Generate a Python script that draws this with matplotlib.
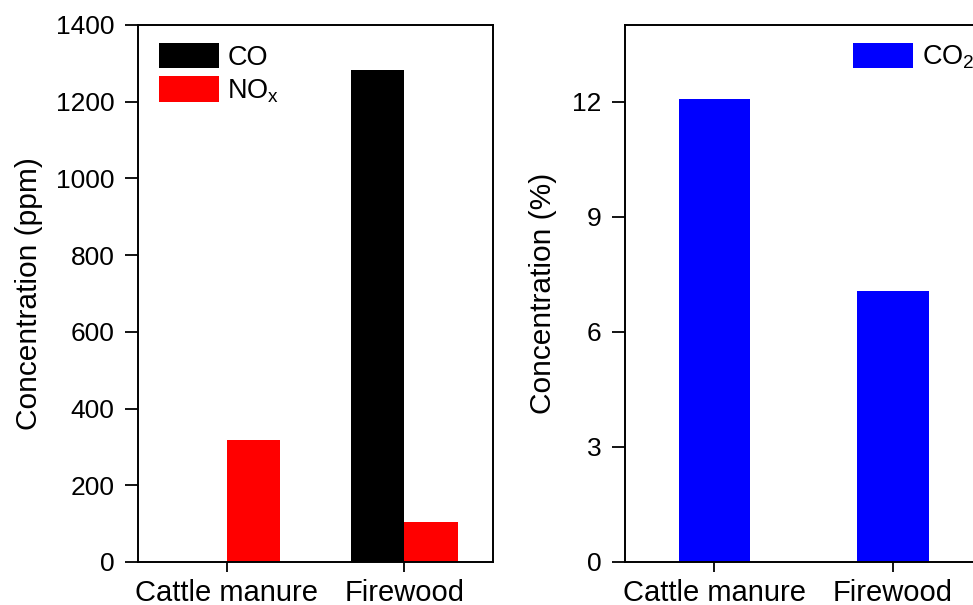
import matplotlib
matplotlib.use("Agg")
import matplotlib.pyplot as plt
import numpy as np

plt.rcParams['font.family'] = ['Liberation Sans', 'DejaVu Sans']
plt.rcParams['mathtext.fontset'] = 'custom'
plt.rcParams['mathtext.rm'] = 'Liberation Sans'
plt.rcParams['mathtext.default'] = 'regular'

categories = ["Cattle manure", "Firewood"]
co_ppm = [0, 1283]
nox_ppm = [318, 105]
co2_pct = [12.08, 7.07]
ppm_ticks = [0, 200, 400, 600, 800, 1000, 1200, 1400]
pct_ticks = [0, 3, 6, 9, 12]

YTICK_FS = 19
XTICK_FS = 21
LABEL_FS = 21.5
LEG_FS = 19.5

fig = plt.figure(figsize=(9.73, 6.05), dpi=100)
ax1 = fig.add_axes([0.1418, 0.0711, 0.3649, 0.8876])
ax2 = fig.add_axes([0.6423, 0.0711, 0.3674, 0.8876])

x = np.arange(len(categories))
w = 0.3
ax1.bar(x - w / 2, co_ppm, width=w, color="black", label="CO", edgecolor="none")
ax1.bar(x + w / 2, nox_ppm, width=w, color="#ff0000", label="NO$_x$", edgecolor="none")
ax1.set_ylim(0, 1400)
ax1.set_yticks(ppm_ticks)
ax1.set_ylabel("Concentration (ppm)", fontsize=LABEL_FS, labelpad=9)

ax2.bar(x, co2_pct, width=0.4, color="#0000ff", label="CO$_2$", edgecolor="none")
ax2.set_ylim(0, 14)
ax2.set_yticks(pct_ticks)
ax2.set_ylabel("Concentration (%)", fontsize=LABEL_FS, labelpad=11)

for ax in (ax1, ax2):
    ax.set_xlim(-0.5, 1.5)
    ax.set_xticks(x)
    ax.set_xticklabels(categories)
    ax.tick_params(axis="both", direction="out", width=1.3)
    ax.tick_params(axis="y", length=9.5, pad=7.5, labelsize=YTICK_FS)
    ax.tick_params(axis="x", length=7.5, pad=4.5, labelsize=XTICK_FS)
    for s in ax.spines.values():
        s.set_linewidth(1.4)

leg_kw = dict(frameon=False, fontsize=LEG_FS, handlelength=2.2, handleheight=1.07,
              labelspacing=0.19, handletextpad=0.33, borderpad=0.0,
              borderaxespad=0.0, loc="upper left")
ax1.legend(bbox_to_anchor=(0.059, 0.9665), **leg_kw)
ax2.legend(bbox_to_anchor=(0.638, 0.9665), **leg_kw)

fig.savefig("out.png", dpi=100)
